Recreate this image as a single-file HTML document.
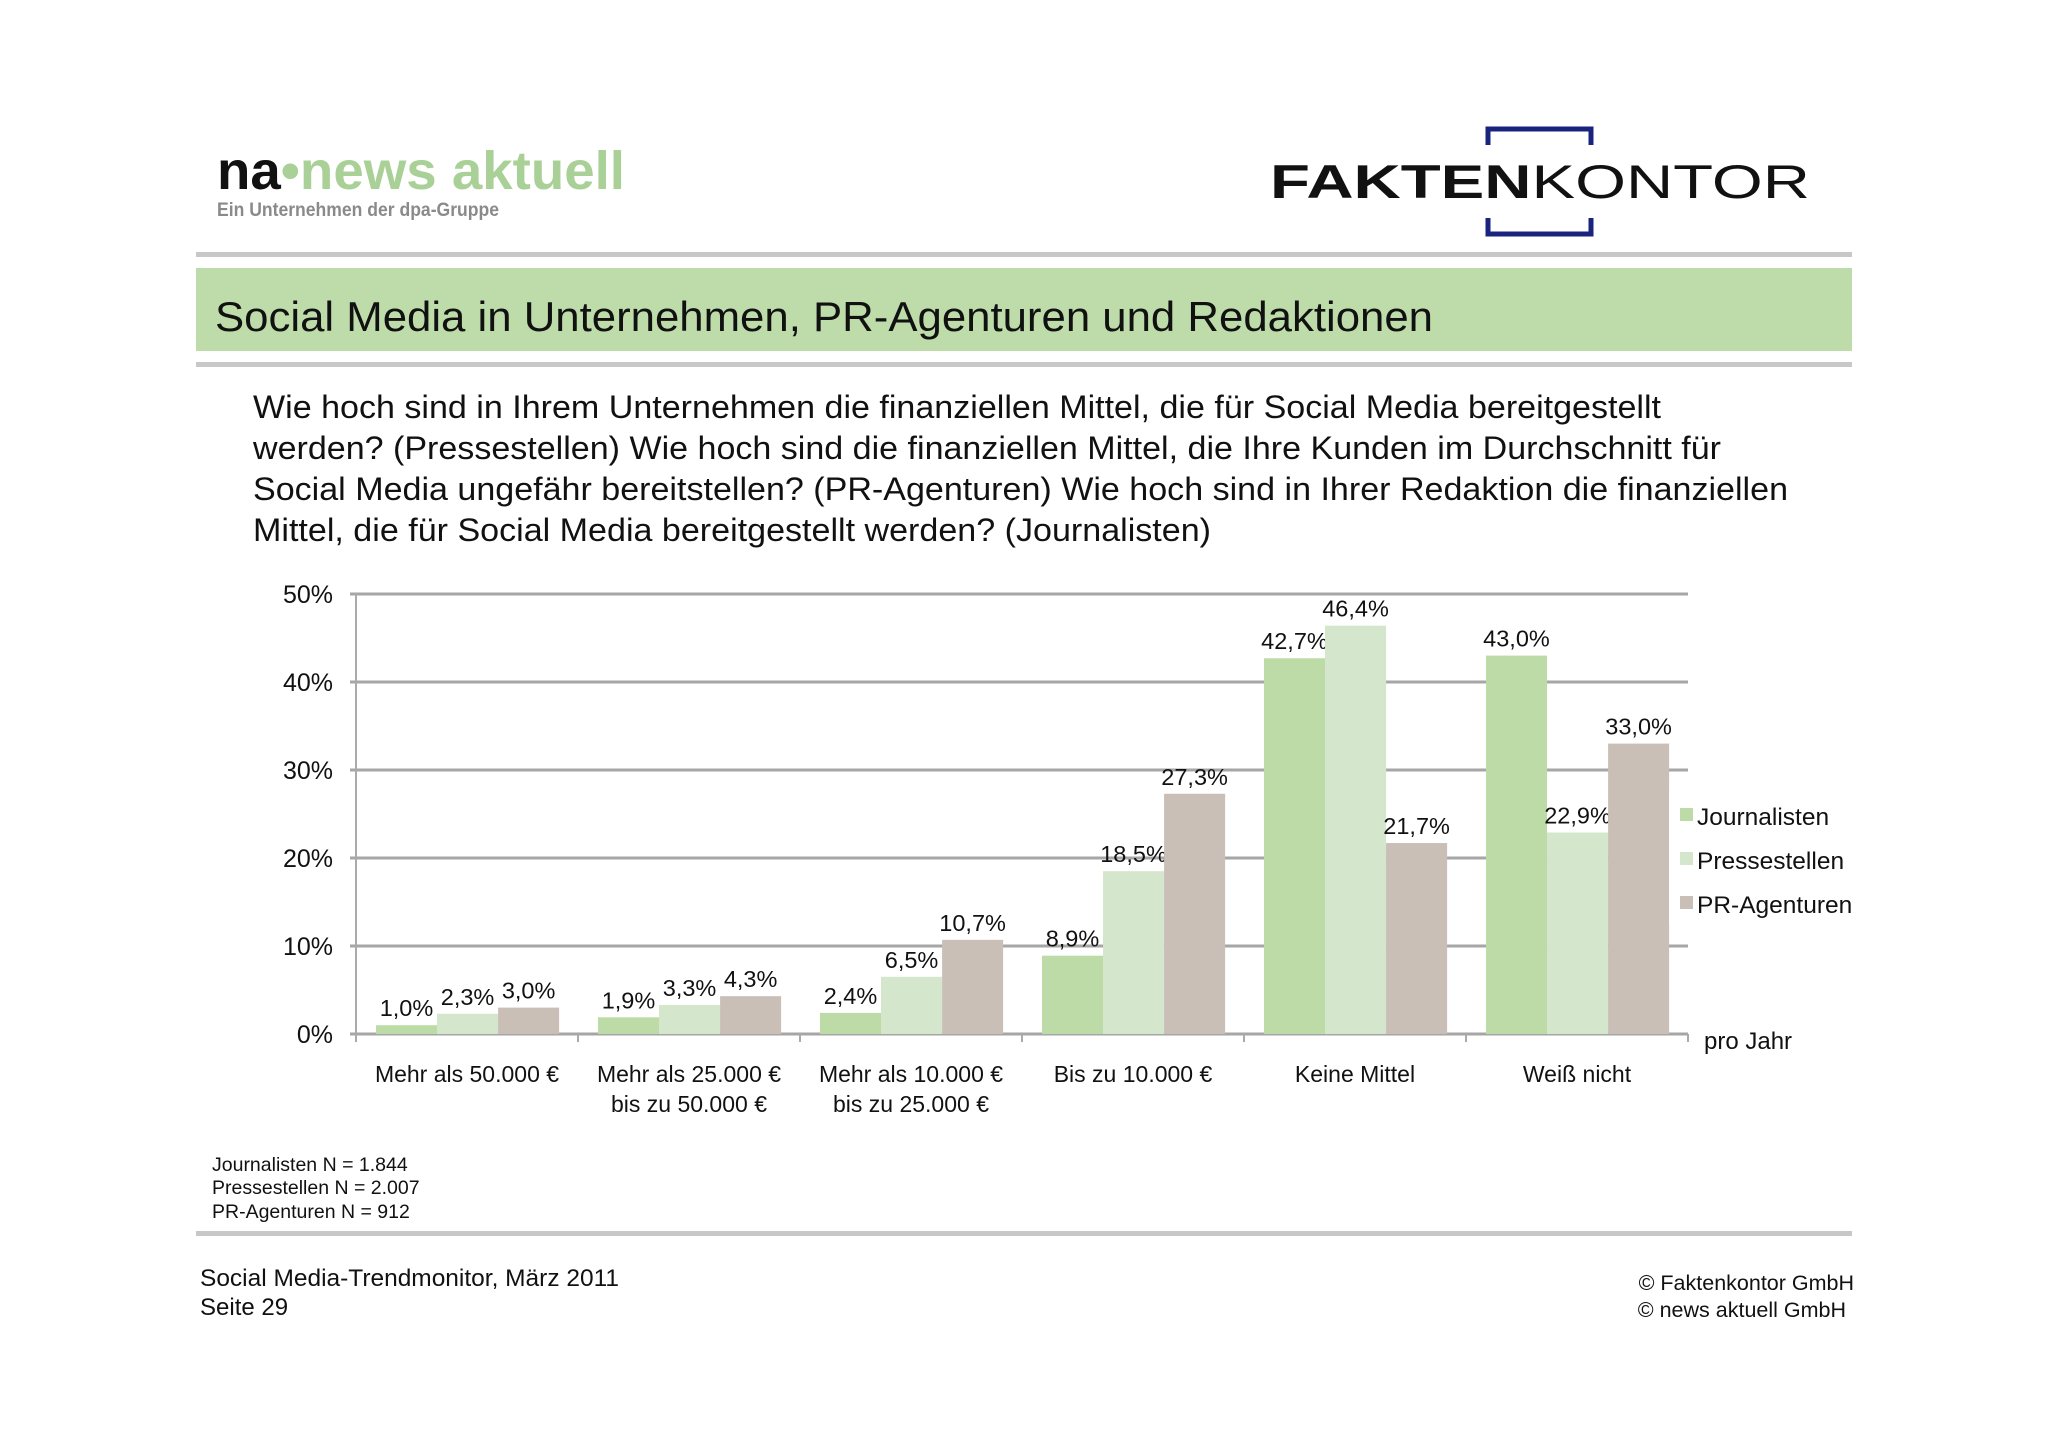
<!DOCTYPE html>
<html><head><meta charset="utf-8"><style>
html,body{margin:0;padding:0;background:#fff}
svg{display:block}
text{font-family:"Liberation Sans",Arial,sans-serif}
</style></head><body>
<svg id="s" width="2048" height="1447" viewBox="0 0 2048 1447" xmlns="http://www.w3.org/2000/svg">
<g>
<text x="217" y="189" font-size="54" font-weight="bold" fill="#111" textLength="408" lengthAdjust="spacingAndGlyphs">na<tspan fill="#a9d096">•news aktuell</tspan></text>
<text x="217" y="216" font-size="19" font-weight="bold" fill="#8a8a8a" textLength="282" lengthAdjust="spacingAndGlyphs">Ein Unternehmen der dpa-Gruppe</text>
</g>
<g>
<path d="M1488 145 V129 H1591 V145 M1488 218 V234 H1591 V218" fill="none" stroke="#1a237e" stroke-width="5"/>
<text x="1270" y="198" font-size="47" fill="#111" textLength="540" lengthAdjust="spacingAndGlyphs"><tspan font-weight="bold">FAKTEN</tspan>KONTOR</text>
</g>
<rect x="196" y="252" width="1656" height="5" fill="#c8c8c8"/>
<rect x="196" y="268" width="1656" height="83" fill="#bddca9"/>
<text x="215" y="331" font-size="42" fill="#111" textLength="1218" lengthAdjust="spacingAndGlyphs">Social Media in Unternehmen, PR-Agenturen und Redaktionen</text>
<rect x="196" y="362" width="1656" height="5" fill="#c8c8c8"/>
<g font-size="32" fill="#111">
<text x="253" y="418" textLength="1408" lengthAdjust="spacingAndGlyphs">Wie hoch sind in Ihrem Unternehmen die finanziellen Mittel, die für Social Media bereitgestellt</text>
<text x="253" y="459" textLength="1468" lengthAdjust="spacingAndGlyphs">werden? (Pressestellen) Wie hoch sind die finanziellen Mittel, die Ihre Kunden im Durchschnitt für</text>
<text x="253" y="500" textLength="1535" lengthAdjust="spacingAndGlyphs">Social Media ungefähr bereitstellen? (PR-Agenturen) Wie hoch sind in Ihrer Redaktion die finanziellen</text>
<text x="253" y="541" textLength="958" lengthAdjust="spacingAndGlyphs">Mittel, die für Social Media bereitgestellt werden? (Journalisten)</text>
</g>
<g id="chart"></g>
<g font-size="19.5" fill="#111">
<text x="212" y="1171">Journalisten N = 1.844</text>
<text x="212" y="1194">Pressestellen N = 2.007</text>
<text x="212" y="1218">PR-Agenturen N = 912</text>
</g>
<rect x="196" y="1231" width="1656" height="5" fill="#c8c8c8"/>
<g font-size="24" fill="#111">
<text x="200" y="1286" textLength="419" lengthAdjust="spacingAndGlyphs">Social Media-Trendmonitor, März 2011</text>
<text x="200" y="1315">Seite 29</text>
</g>
<g font-size="21.5" fill="#111" text-anchor="end">
<text x="1854" y="1290">© Faktenkontor GmbH</text>
<text x="1846" y="1317">© news aktuell GmbH</text>
</g>
</svg>
<script>
const categories=[["Mehr als 50.000 €"],["Mehr als 25.000 €","bis zu 50.000 €"],["Mehr als 10.000 €","bis zu 25.000 €"],["Bis zu 10.000 €"],["Keine Mittel"],["Weiß nicht"]];
const seriesNames=["Journalisten","Pressestellen","PR-Agenturen"];
const journalisten=[1.0,1.9,2.4,8.9,42.7,43.0];
const pressestellen=[2.3,3.3,6.5,18.5,46.4,22.9];
const agenturen=[3.0,4.3,10.7,27.3,21.7,33.0];
const yTicks=[0,10,20,30,40,50];
const NS="http://www.w3.org/2000/svg";
const g=document.getElementById('chart');
const X0=356,X1=1688,Y0=1034,Y50=594,cw=222;
const colors=["#bddba7","#d4e6cc","#c9bfb7"];
const y=v=>Y0-(v/50)*(Y0-Y50);
const cx=i=>X0+i*cw;
function mk(t,a,p){const e=document.createElementNS(NS,t);for(const k in a)e.setAttribute(k,a[k]);(p||g).appendChild(e);return e;}
yTicks.forEach(t=>{
 const l=mk('line',{x1:X0-6,x2:X1,y1:y(t),y2:y(t),stroke:'#a6a6a6','stroke-width':3});
 
 
 const tx=mk('text',{x:333,y:y(t)+9,'font-size':25,'text-anchor':'end',fill:'#111'});
 tx.textContent=t+'%';
 
 
});
const ax=mk('line',{x1:X0,x2:X0,y1:Y50,y2:Y0+6,stroke:'#aaa','stroke-width':2});


for(let i=0;i<=categories.length;i++){
 const tk=mk('line',{x1:cx(i),x2:cx(i),y1:Y0,y2:Y0+8,stroke:'#aaa','stroke-width':2});
 
 
}
const all=[journalisten,pressestellen,agenturen];
const bw=cw*0.275,off=cw*0.09;
categories.forEach((c,i)=>{
 all.forEach((s,j)=>{
  const bx=cx(i)+off+j*bw;
  const r=mk('rect',{x:bx,y:y(s[i]),width:bw,height:Y0-y(s[i]),fill:colors[j]});
  
  
  const t=mk('text',{x:bx+bw/2,y:y(s[i])-9,'font-size':23.5,'text-anchor':'middle',fill:'#111'});
  t.textContent=s[i].toFixed(1).replace('.',',')+'%';
  
  
 });
 c.forEach((line,k)=>{
  const t=mk('text',{x:cx(i)+cw/2,y:1082+k*30,'font-size':23,'text-anchor':'middle',fill:'#111'});
  t.textContent=line;
  
  
 });
});
const pj=mk('text',{x:1704,y:1049,'font-size':24,fill:'#111'});
pj.textContent='pro Jahr';


const lg=mk('g',{});


mk('rect',{x:1669,y:791,width:206,height:134,fill:'#fff'},lg);
seriesNames.forEach((n,j)=>{
 const sq=mk('rect',{x:1680,y:808+j*44,width:13,height:13,fill:colors[j]},lg);
 
 
 const t=mk('text',{x:1697,y:825+j*44,'font-size':24.5,fill:'#111'},lg);
 t.textContent=n;
 
 
});
</script>
</body></html>
